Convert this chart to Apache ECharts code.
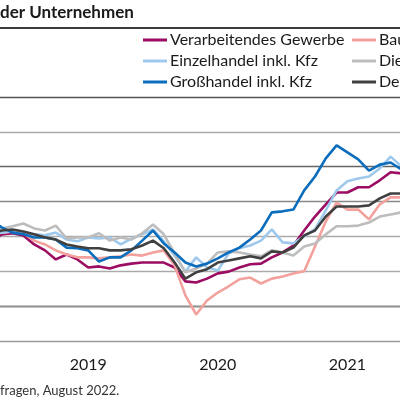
<!DOCTYPE html>
<html>
<head>
<meta charset="utf-8">
<script src="https://cdn.jsdelivr.net/npm/echarts@6/dist/echarts.min.js"></script>
<style>
  html, body { margin: 0; padding: 0; overflow: hidden; background: #fff; }
  #main { position: absolute; left: -30px; top: 0; width: 470px; height: 400px; }
</style>
</head>
<body>
<div id="main"></div>
<script>
// monthly categories, Oct 2018 .. Jan 2022 (the visible cut of the chart)
const months = [
  '2018-10', '2018-11', '2018-12',
  '2019-01', '2019-02', '2019-03', '2019-04', '2019-05', '2019-06',
  '2019-07', '2019-08', '2019-09', '2019-10', '2019-11', '2019-12',
  '2020-01', '2020-02', '2020-03', '2020-04', '2020-05', '2020-06',
  '2020-07', '2020-08', '2020-09', '2020-10', '2020-11', '2020-12',
  '2021-01', '2021-02', '2021-03', '2021-04', '2021-05', '2021-06',
  '2021-07', '2021-08', '2021-09', '2021-10', '2021-11', '2021-12',
  '2022-01'
];

const verarbeitendes = [18.8, 20.6, 20.9, 20.3, 17.7, 16.0, 13.4, 14.8, 13.4, 11.1, 11.4, 10.8, 11.7, 12.2, 12.5, 12.5, 12.5, 11.1, 7.1, 6.8, 7.9, 9.4, 9.9, 11.1, 12.0, 12.2, 14.0, 15.4, 17.4, 21.7, 25.7, 29.2, 32.6, 32.6, 34.1, 34.1, 36.1, 38.4, 38.1, 37.5];
const bau = [20.6, 21.1, 21.4, 20.9, 18.8, 17.7, 16.0, 14.8, 14.0, 14.0, 13.7, 14.0, 14.3, 14.8, 14.5, 15.4, 16.0, 11.7, 3.1, -2.4, 1.6, 3.9, 5.7, 7.7, 8.2, 6.5, 7.9, 8.5, 9.4, 10.0, 17.1, 24.3, 29.7, 27.7, 27.7, 24.9, 29.2, 31.2, 31.2, 31.5];
const einzelhandel = [20.9, 21.1, 21.4, 20.9, 20.6, 20.3, 21.1, 19.1, 18.6, 19.7, 19.4, 19.7, 17.7, 19.4, 20.6, 22.0, 18.6, 14.5, 9.9, 14.0, 11.1, 10.2, 15.1, 16.6, 17.4, 18.8, 22.0, 18.3, 18.0, 20.0, 22.0, 27.5, 33.2, 35.8, 36.6, 37.2, 39.5, 42.9, 40.1, 38.4];
const dienstleistungen = [22.0, 22.3, 22.9, 23.7, 22.3, 21.7, 23.1, 19.4, 19.7, 19.7, 20.9, 18.8, 19.7, 19.1, 20.9, 23.4, 20.6, 15.1, 9.7, 10.8, 12.2, 15.4, 15.7, 15.4, 14.8, 14.3, 16.0, 15.4, 14.5, 17.1, 18.0, 20.6, 22.9, 22.9, 23.1, 24.0, 25.7, 26.3, 26.9, 27.5];
const grosshandel = [24.6, 22.6, 21.1, 20.6, 19.7, 19.7, 19.1, 16.8, 16.6, 16.0, 12.8, 14.0, 14.0, 16.0, 18.8, 21.7, 18.0, 15.4, 12.5, 11.4, 12.2, 13.7, 15.4, 16.8, 19.1, 21.7, 26.9, 27.2, 27.7, 33.2, 37.2, 42.4, 46.1, 44.1, 42.1, 38.9, 40.6, 41.2, 39.2, 37.5];
const deutschland = [20.8, 21.7, 22.0, 21.4, 20.6, 19.7, 19.1, 17.7, 17.1, 16.6, 16.6, 16.0, 16.0, 16.3, 17.4, 18.8, 16.6, 12.5, 7.9, 9.7, 10.6, 12.5, 13.1, 13.7, 14.3, 13.7, 15.7, 15.4, 16.8, 20.3, 21.7, 25.7, 28.6, 28.6, 28.6, 28.9, 30.9, 32.3, 32.3, 32.9];

const seriesNames = ['Verarbeitendes Gewerbe', 'Bauhauptgewerbe', 'Einzelhandel inkl. Kfz', 'Dienstleistungen', 'Großhandel inkl. Kfz', 'Deutschland'];
const seriesData = [verarbeitendes, bau, einzelhandel, dienstleistungen, grosshandel, deutschland];
const colors = ['#9b0c62', '#f3a19c', '#9ec9ec', '#bdbdbd', '#0b6dbb', '#404040'];

const font = 'Lato, "Noto Sans", sans-serif';

const legendStyle = {
    orient: 'vertical',
    top: 32,
    icon: 'rect',
    itemWidth: 24,
    itemHeight: 3,
    itemGap: 5,
    padding: 0,
    textStyle: {fontFamily: font, fontSize: 16, lineHeight: 16, color: '#1a1a1a', padding: [0, 0, 0, -2]}
};

const chart = echarts.init(document.getElementById('main'));
chart.setOption({
    animation: false,
    color: colors,
    title: [
        {
            text: 'der Unternehmen',
            left: 30,
            top: 4,
            padding: 0,
            textStyle: {fontFamily: font, fontSize: 17, fontWeight: 'bold', color: '#1a1a1a'}
        },
        {
            text: 'fragen, August 2022.',
            left: 30,
            top: 384,
            padding: 0,
            textStyle: {fontFamily: font, fontSize: 13, fontWeight: 'normal', color: '#333'}
        }
    ],
    graphic: [
        {
            type: 'line',
            shape: {x1: 0, y1: 28, x2: 470, y2: 28},
            style: {stroke: '#3a3a3a', lineWidth: 2}
        }
    ],
    legend: [
        Object.assign({}, legendStyle, {
            left: 173,
            data: [seriesNames[0], seriesNames[2], seriesNames[4]]
        }),
        Object.assign({}, legendStyle, {
            left: 382,
            data: [seriesNames[1], seriesNames[3], seriesNames[5]]
        })
    ],
    grid: {left: 15.6, right: 22.4, top: 97, bottom: 59},
    xAxis: {
        type: 'category',
        boundaryGap: true,
        data: months,
        axisLine: {lineStyle: {color: '#8f8f8f', width: 1}},
        axisTick: {
            interval: (index, value) => value.slice(5) === '01',
            length: 6,
            lineStyle: {color: '#666'}
        },
        axisLabel: {
            interval: (index, value) => value.slice(5) === '07',
            formatter: value => value.slice(0, 4),
            margin: 16,
            fontFamily: font,
            fontSize: 16,
            color: '#1a1a1a'
        },
        splitLine: {show: false}
    },
    yAxis: {
        type: 'value',
        min: -10,
        max: 60,
        interval: 10,
        axisLine: {show: false},
        axisTick: {show: false},
        axisLabel: {show: false},
        splitLine: {
            lineStyle: {
                color: ['#999', '#111', '#aaa', '#aaa', '#888', '#666', '#aaa', '#555'],
                width: 1.3
            }
        }
    },
    series: seriesNames.map((name, i) => ({
        name: name,
        type: 'line',
        data: seriesData[i],
        symbol: 'none',
        lineStyle: {width: 2.6, color: colors[i]},
        itemStyle: {color: colors[i]}
    }))
});
</script>
</body>
</html>
